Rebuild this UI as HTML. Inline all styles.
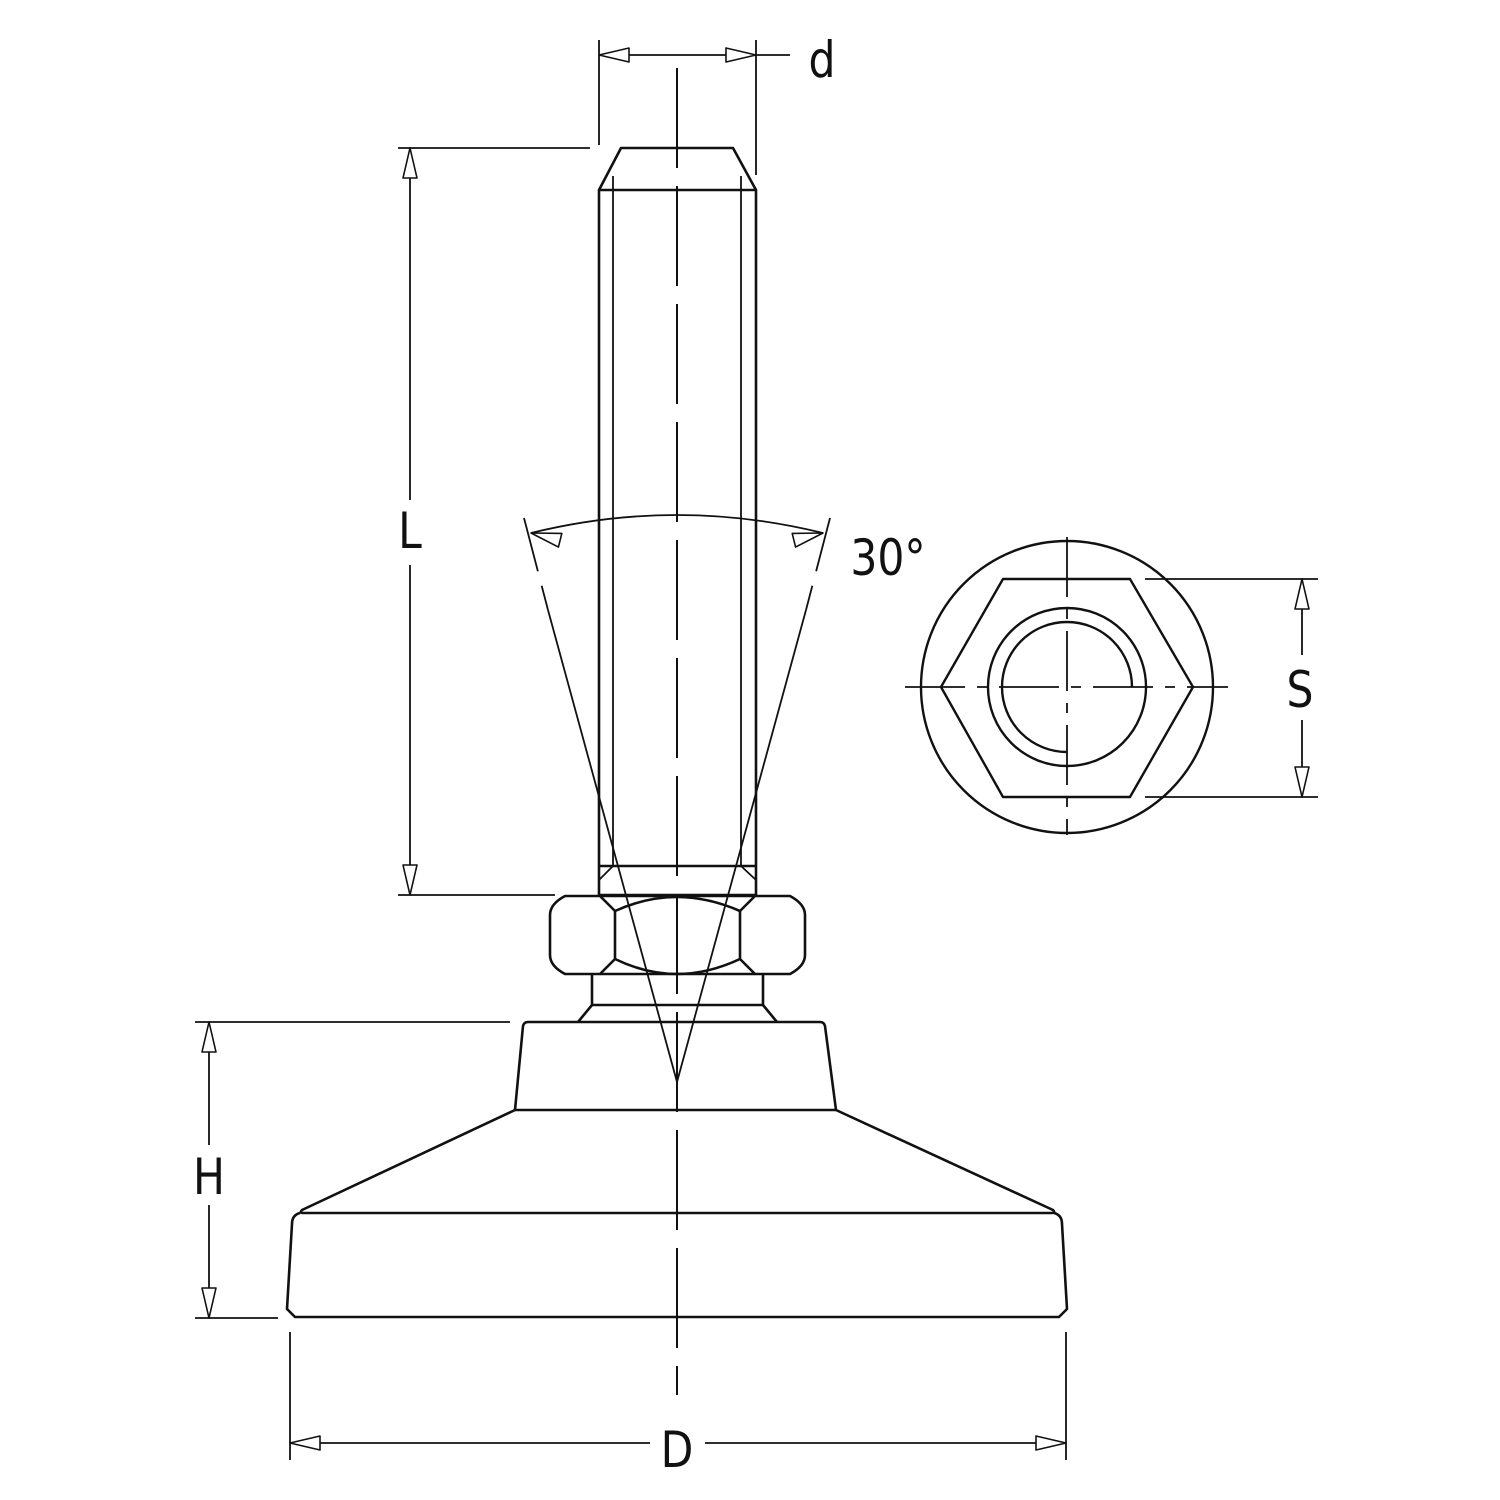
<!DOCTYPE html>
<html><head><style>html,body{margin:0;padding:0;background:#fff}svg{display:block}</style></head>
<body>
<svg width="1500" height="1500" viewBox="0 0 1500 1500" xmlns="http://www.w3.org/2000/svg" fill="none" stroke="#111" stroke-linejoin="round">
<defs>
<path id="ar" d="M0,0 L-30,-7 L-30,7 Z" fill="#fff" stroke="#111" stroke-width="1.6"/>
</defs>
<!-- centerline -->
<line x1="677" y1="68" x2="677" y2="1395" stroke-width="2" stroke-dasharray="100,18"/>
<!-- stem -->
<g stroke-width="2.6">
<polyline points="599,895 599,190 621,148 733,148 756,190 756,895"/>
<line x1="599" y1="190" x2="756" y2="190"/>
<line x1="599" y1="866" x2="756" y2="866"/>
<line x1="599" y1="895" x2="756" y2="895"/>
</g>
<g stroke-width="1.8">
<line x1="613" y1="176" x2="613" y2="866"/>
<line x1="741" y1="176" x2="741" y2="866"/>
<line x1="599" y1="880" x2="613" y2="866"/>
<line x1="756" y1="880" x2="741" y2="866"/>
</g>
<!-- nut -->
<g stroke-width="2.6">
<path d="M565,896 L600,896 L615,911 L615,959 L600,974 L565,974 Q550,966 550,955 L550,915 Q550,904 565,896 Z"/>
<path d="M790,896 L755,896 L740,911 L740,959 L755,974 L790,974 Q805,966 805,955 L805,915 Q805,904 790,896 Z"/>
<line x1="600" y1="896" x2="755" y2="896"/>
<line x1="600" y1="974" x2="755" y2="974"/>
<path d="M615,911 Q646,897 677,897 Q708,897 740,911"/>
<path d="M615,959 Q646,974 677,974 Q708,974 740,959"/>
<polyline points="592,974 592,1005 578,1022"/>
<polyline points="763,974 763,1005 777,1022"/>
<line x1="592" y1="1005" x2="763" y2="1005"/>
<path d="M515,1110 L523,1026 Q524,1022 528,1022 L820,1022 Q824,1022 825,1026 L836,1110"/>
<line x1="515" y1="1110" x2="836" y2="1110"/>
<path d="M515,1110 L302,1210 Q299,1213 303,1213 L1052,1213 Q1056,1213 1053,1210 L836,1110"/>
<path d="M300,1213 Q292,1215 292,1224 L287,1309 L295,1317 L1059,1317 L1067,1309 L1062,1224 Q1062,1215 1054,1213"/>
</g>
<!-- cone 30° -->
<g stroke-width="1.8">
<line x1="548" y1="610" x2="677" y2="1082"/>
<line x1="806" y1="610" x2="677" y2="1082"/>
<line x1="524" y1="518" x2="548" y2="610" stroke-dasharray="55,15"/>
<line x1="830" y1="518" x2="806" y2="610" stroke-dasharray="55,15"/>
<path d="M531,533 Q677,497 823,533"/>
</g>
<use href="#ar" transform="translate(531,533) rotate(-166)"/>
<use href="#ar" transform="translate(823,533) rotate(-14)"/>
<g stroke-width="1.8">
<line x1="599" y1="40" x2="599" y2="145"/>
<line x1="756" y1="40" x2="756" y2="175"/>
<line x1="599" y1="55" x2="790" y2="55"/>
<line x1="398" y1="148" x2="590" y2="148"/>
<line x1="398" y1="895" x2="555" y2="895"/>
<line x1="410" y1="148" x2="410" y2="500"/>
<line x1="410" y1="565" x2="410" y2="895"/>
<line x1="195" y1="1022" x2="510" y2="1022"/>
<line x1="195" y1="1318" x2="278" y2="1318"/>
<line x1="209" y1="1022" x2="209" y2="1145"/>
<line x1="209" y1="1205" x2="209" y2="1318"/>
<line x1="290" y1="1332" x2="290" y2="1460"/>
<line x1="1066" y1="1332" x2="1066" y2="1460"/>
<line x1="290" y1="1443" x2="650" y2="1443"/>
<line x1="705" y1="1443" x2="1066" y2="1443"/>
<line x1="1145" y1="579" x2="1318" y2="579"/>
<line x1="1145" y1="797" x2="1318" y2="797"/>
<line x1="1302" y1="579" x2="1302" y2="655"/>
<line x1="1302" y1="720" x2="1302" y2="797"/>
</g>
<use href="#ar" transform="translate(599,55) rotate(180)"/>
<use href="#ar" transform="translate(756,55)"/>
<use href="#ar" transform="translate(410,148) rotate(-90)"/>
<use href="#ar" transform="translate(410,895) rotate(90)"/>
<use href="#ar" transform="translate(209,1022) rotate(-90)"/>
<use href="#ar" transform="translate(209,1318) rotate(90)"/>
<use href="#ar" transform="translate(290,1443) rotate(180)"/>
<use href="#ar" transform="translate(1066,1443)"/>
<use href="#ar" transform="translate(1302,579) rotate(-90)"/>
<use href="#ar" transform="translate(1302,797) rotate(90)"/>
<g stroke-width="2.4">
<circle cx="1067" cy="687" r="146"/>
<polygon points="941,687 1003,579 1130,579 1193,687 1130,797 1003,797"/>
<circle cx="1067" cy="687" r="79"/>
<path d="M1132,687 A65,65 0 1 0 1067,752"/>
</g>
<g stroke-width="1.8" stroke-dasharray="60,12,10,12">
<line x1="905" y1="687" x2="1228" y2="687"/>
<line x1="1067" y1="537" x2="1067" y2="835"/>
</g>
<g fill="#111" stroke="none" font-family="'DejaVu Sans','Liberation Sans',sans-serif" font-size="50" text-anchor="middle">
<text transform="translate(822,77) scale(0.85,1)">d</text>
<text transform="translate(410,548) scale(0.85,1)">L</text>
<text transform="translate(888,575) scale(0.85,1)">30°</text>
<text transform="translate(1300,707) scale(0.85,1)">S</text>
<text transform="translate(209,1194) scale(0.85,1)">H</text>
<text transform="translate(677,1467) scale(0.85,1)">D</text>
</g>
</svg>
</body></html>
